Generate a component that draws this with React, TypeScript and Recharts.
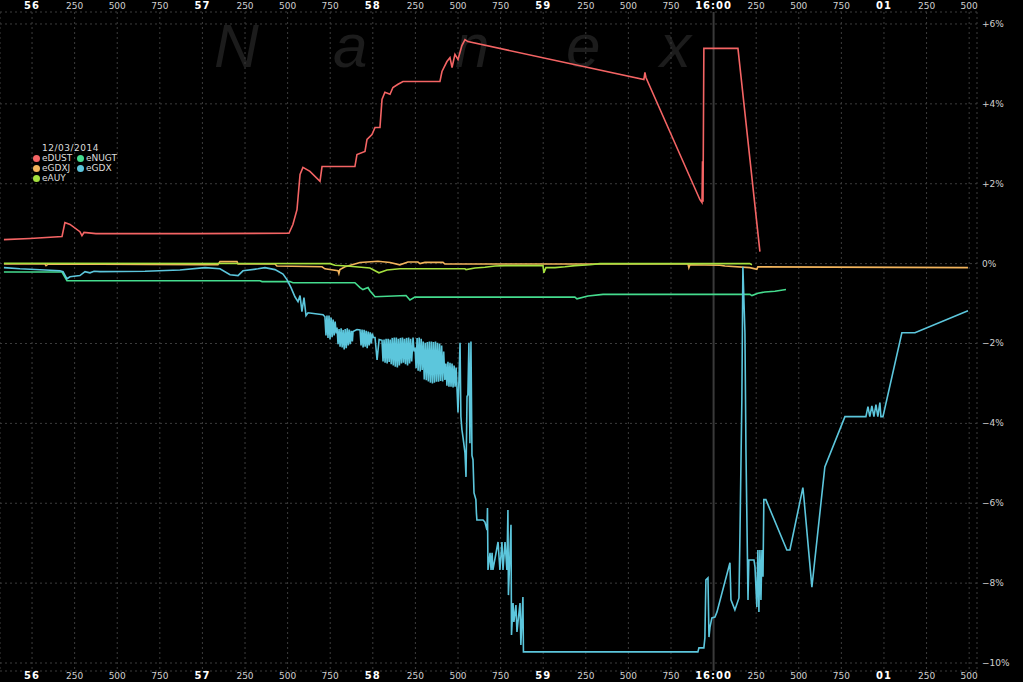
import { CartesianGrid, Line, LineChart, ReferenceLine, XAxis, YAxis } from 'recharts';

// time in seconds past 15:59:00 (60 = 16:00:00), value in % change
const eDUST: [number, number][] = [
  [55.835, 0.6], [55.988, 0.63], [56.176, 0.68], [56.193, 1.03], [56.223, 0.98], [56.281, 0.8],
  [56.293, 0.7], [56.305, 0.78], [56.375, 0.75], [56.945, 0.75], [57.508, 0.76], [57.531, 0.98],
  [57.555, 1.35], [57.573, 2.23], [57.59, 2.41], [57.631, 2.31], [57.69, 2.06], [57.702, 2.43],
  [57.895, 2.43], [57.907, 2.73], [57.954, 2.81], [57.966, 3.11], [57.995, 3.23], [58.013, 3.41],
  [58.042, 3.41], [58.054, 4.11], [58.071, 4.29], [58.101, 4.24], [58.118, 4.41], [58.148, 4.49],
  [58.177, 4.56], [58.394, 4.56], [58.406, 4.81], [58.435, 5.06], [58.453, 5.16], [58.465, 4.91],
  [58.482, 5.24], [58.5, 5.11], [58.523, 5.46], [58.541, 5.61], [58.558, 5.56], [59.591, 4.61],
  [59.597, 4.79], [59.603, 4.66], [59.92, 1.6], [59.932, 1.53], [59.935, 2.56], [59.938, 1.55],
  [59.943, 5.39], [60.143, 5.39], [60.272, 0.3],
];

const eNUGT: [number, number][] = [
  [55.835, -0.21], [56.176, -0.21], [56.205, -0.43], [57.338, -0.43], [57.35, -0.45], [57.514, -0.45],
  [57.531, -0.48], [57.895, -0.48], [57.925, -0.6], [57.942, -0.65], [57.972, -0.6], [57.983, -0.68],
  [58.013, -0.83], [58.195, -0.8], [58.218, -0.91], [58.247, -0.84], [59.186, -0.84], [59.198, -0.88],
  [59.263, -0.81], [59.351, -0.77], [60.213, -0.77], [60.225, -0.8], [60.26, -0.74], [60.301, -0.71],
  [60.36, -0.69], [60.425, -0.65],
];

const eGDXJ: [number, number][] = [
  [55.835, -0.01], [56.076, -0.01], [56.082, -0.05], [56.094, -0.01], [57.015, -0.03], [57.091, -0.03],
  [57.103, 0.05], [57.203, 0.05], [57.209, -0.01], [57.426, -0.01], [57.437, -0.06], [57.702, -0.08],
  [57.719, -0.13], [57.796, -0.18], [57.801, -0.25], [57.807, -0.15], [57.837, -0.08], [57.925, 0.03],
  [58.03, 0.06], [58.101, 0.03], [58.159, -0.03], [58.206, 0.04], [58.265, 0.04], [58.277, 0.0],
  [58.306, 0.03], [58.412, 0.03], [58.423, -0.01], [59.85, -0.01], [59.855, -0.1], [59.861, -0.03],
  [60.037, -0.04], [60.067, -0.06], [60.213, -0.1], [60.254, -0.14], [60.26, -0.08], [61.493, -0.1],
];

const eAUY: [number, number][] = [
  [55.835, 0.01], [57.749, 0.0], [57.778, -0.04], [57.848, -0.06], [57.983, -0.11], [58.036, -0.23],
  [58.083, -0.16], [58.159, -0.13], [58.541, -0.13], [58.547, -0.15], [58.6, -0.11], [58.658, -0.09],
  [58.717, -0.06], [58.776, -0.05], [58.999, -0.05], [59.004, -0.23], [59.016, -0.1], [59.069, -0.1],
  [59.128, -0.08], [59.186, -0.05], [59.274, -0.03], [59.333, 0.0], [60.213, 0.0], [60.225, -0.03],
];

const eGDX: [number, number][] = [
  [55.835, -0.1], [55.929, -0.13], [56.164, -0.18], [56.182, -0.2], [56.205, -0.38], [56.223, -0.33],
  [56.281, -0.3], [56.311, -0.2], [56.34, -0.23], [56.364, -0.19], [56.399, -0.2], [56.663, -0.19],
  [56.868, -0.16], [57.015, -0.1], [57.103, -0.13], [57.162, -0.28], [57.209, -0.3], [57.238, -0.18],
  [57.326, -0.13], [57.367, -0.1], [57.426, -0.15], [57.473, -0.26], [57.496, -0.4], [57.52, -0.6],
  [57.543, -0.83], [57.561, -0.95], [57.573, -0.8], [57.584, -1.2], [57.596, -0.85], [57.608, -1.3],
  [57.62, -1.23], [57.708, -1.28],
  // dense trading, 57.72 - 58.52
  [57.719, -1.33], [57.725, -1.8], [57.731, -1.3], [57.737, -1.86], [57.743, -1.3], [57.749, -1.9],
  [57.755, -1.35], [57.761, -1.84], [57.767, -1.4], [57.773, -1.8], [57.779, -1.45], [57.785, -1.75],
  [57.79, -1.6], [57.796, -2.02], [57.802, -1.64], [57.808, -2.08], [57.814, -1.62], [57.82, -2.1],
  [57.826, -1.66], [57.832, -2.15], [57.838, -1.64], [57.844, -2.12], [57.85, -1.62], [57.856, -2.05],
  [57.862, -1.65], [57.868, -2.02], [57.874, -1.68], [57.88, -1.95], [57.884, -1.7], [57.907, -1.65],
  [57.925, -1.66], [57.931, -2.05], [57.937, -1.65], [57.943, -2.1], [57.949, -1.66], [57.955, -2.08],
  [57.961, -1.68], [57.967, -2.12], [57.973, -1.7], [57.979, -2.05], [57.985, -1.72], [57.991, -2.0],
  [57.997, -1.75], [58.003, -1.85], [58.013, -1.85], [58.025, -2.41], [58.037, -1.9], [58.054, -1.92],
  [58.06, -2.45], [58.066, -1.9], [58.072, -2.48], [58.078, -1.88], [58.084, -2.5], [58.09, -1.88],
  [58.096, -2.46], [58.102, -1.9], [58.108, -2.52], [58.114, -1.86], [58.12, -2.55], [58.126, -1.85],
  [58.132, -2.58], [58.138, -1.85], [58.144, -2.6], [58.15, -1.88], [58.156, -2.55], [58.162, -1.86],
  [58.168, -2.5], [58.174, -1.85], [58.18, -2.48], [58.186, -1.88], [58.192, -2.52], [58.198, -1.86],
  [58.204, -2.55], [58.21, -1.85], [58.216, -2.5], [58.222, -1.88], [58.228, -2.45], [58.236, -1.85],
  [58.242, -2.2], [58.248, -2.1], [58.254, -2.62], [58.26, -1.86], [58.266, -2.68], [58.272, -1.85],
  [58.278, -2.7], [58.284, -1.88], [58.29, -2.66], [58.296, -1.95], [58.302, -2.9], [58.308, -1.98],
  [58.314, -2.92], [58.32, -1.96], [58.326, -2.95], [58.332, -1.95], [58.338, -2.98], [58.344, -1.95],
  [58.35, -3.0], [58.356, -1.96], [58.362, -2.98], [58.368, -1.95], [58.374, -2.96], [58.38, -1.98],
  [58.386, -2.96], [58.392, -2.0], [58.398, -2.94], [58.404, -2.05], [58.41, -2.95], [58.416, -2.2],
  [58.423, -2.91], [58.429, -2.5], [58.435, -3.06], [58.441, -2.46], [58.447, -3.08], [58.453, -2.48],
  [58.459, -3.08], [58.465, -2.5], [58.471, -3.1], [58.477, -2.55], [58.483, -3.08], [58.489, -2.6],
  [58.494, -3.1], [58.5, -3.73], [58.512, -1.98], [58.517, -3.83], [58.523, -4.16], [58.529, -4.34],
  [58.541, -4.74], [58.547, -5.34], [58.553, -3.33], [58.558, -3.28], [58.564, -1.98], [58.57, -4.5],
  [58.576, -1.95], [58.582, -4.8], [58.588, -4.91],
  [58.594, -5.74], [58.605, -5.91], [58.608, -6.24], [58.611, -6.42], [58.647, -6.42], [58.658, -6.47],
  [58.67, -6.67], [58.673, -6.12], [58.676, -7.67], [58.688, -7.24], [58.694, -7.67], [58.7, -7.24],
  [58.705, -7.67], [58.735, -6.97], [58.746, -7.67], [58.758, -6.97], [58.764, -7.67], [58.776, -6.97],
  [58.787, -7.67], [58.793, -6.17], [58.796, -8.3], [58.811, -6.54], [58.814, -9.3], [58.823, -8.5],
  [58.828, -8.97], [58.84, -8.55], [58.846, -9.22], [58.852, -8.97], [58.864, -8.5], [58.869, -9.55],
  [58.881, -8.35], [58.884, -9.72], [59.908, -9.72], [59.914, -9.62], [59.943, -9.62], [59.949, -9.37],
  [59.955, -7.92], [59.967, -7.87], [59.973, -9.35], [59.979, -9.1], [59.99, -8.87], [60.008, -8.85],
  [60.02, -8.72], [60.096, -7.49], [60.102, -8.42], [60.125, -8.67], [60.149, -8.37], [60.155, -6.74],
  [60.166, -3.41], [60.172, -0.08], [60.184, -1.73], [60.19, -4.66], [60.202, -8.42], [60.207, -7.42],
  [60.237, -7.42], [60.243, -7.59], [60.254, -8.6], [60.26, -7.17], [60.266, -8.72], [60.272, -7.17],
  [60.278, -8.42], [60.284, -7.17], [60.29, -7.84], [60.295, -5.91], [60.307, -5.91], [60.43, -7.17],
  [60.448, -7.17], [60.524, -5.61], [60.53, -5.86], [60.577, -8.1], [60.653, -5.09], [60.771, -3.83],
  [60.876, -3.83], [60.894, -3.83], [60.906, -3.58], [60.917, -3.83], [60.929, -3.56], [60.941, -3.83],
  [60.953, -3.53], [60.964, -3.83], [60.976, -3.48], [60.982, -3.83], [60.994, -3.83], [61.105, -1.73],
  [61.182, -1.73], [61.493, -1.18],
];

const xTicks = [
  56, 56.25, 56.5, 56.75, 57, 57.25, 57.5, 57.75, 58, 58.25, 58.5, 58.75,
  59, 59.25, 59.5, 59.75, 60, 60.25, 60.5, 60.75, 61, 61.25, 61.5,
];
const xTickLabels = [
  '56', '250', '500', '750', '57', '250', '500', '750', '58', '250', '500', '750',
  '59', '250', '500', '750', '16:00', '250', '500', '750', '01', '250', '500',
];
const yTicks = [-10, -8, -6, -4, -2, 0, 2, 4, 6];

const series = [
  { name: 'eGDXJ', color: '#f2b45c', data: eGDXJ },
  { name: 'eAUY', color: '#a4e03e', data: eAUY },
  { name: 'eNUGT', color: '#45dc8e', data: eNUGT },
  { name: 'eDUST', color: '#f46464', data: eDUST },
  { name: 'eGDX', color: '#5cc6dc', data: eGDX },
];

const legendRows = [
  [{ name: 'eDUST', color: '#f46464' }, { name: 'eNUGT', color: '#45dc8e' }],
  [{ name: 'eGDXJ', color: '#f2b45c' }, { name: 'eGDX', color: '#5cc6dc' }],
  [{ name: 'eAUY', color: '#a4e03e' }],
];

const watermark = [
  { ch: 'N', left: 214 },
  { ch: 'a', left: 333 },
  { ch: 'n', left: 455 },
  { ch: 'e', left: 566 },
  { ch: 'x', left: 660 },
];

const font = '"DejaVu Sans", Verdana, sans-serif';

function timeTick(baseline: number) {
  return (props: any) => {
    const { x, payload } = props;
    const idx = xTicks.indexOf(payload.value);
    const label = idx >= 0 ? xTickLabels[idx] : '';
    const major = !label.match(/^(250|500|750)$/);
    return (
      <text
        x={x}
        y={baseline}
        textAnchor="middle"
        fontFamily={font}
        fontSize={major ? 10 : 9}
        fontWeight={major ? 'bold' : 'normal'}
        letterSpacing={major ? 1 : 0}
        fill={major ? '#ffffff' : '#d0d0d0'}
      >
        {label}
      </text>
    );
  };
}

function pctTick(props: any) {
  const { y, payload } = props;
  const v = payload.value;
  const label = v > 0 ? `+${v}%` : v < 0 ? `\u2212${-v}%` : '0%';
  return (
    <text x={982} y={y + 3} fontFamily={font} fontSize={9} fill="#d0d0d0">
      {label}
    </text>
  );
}

export default function App() {
  return (
    <div style={{ position: 'fixed', left: 0, top: 0, width: 1023, height: 682, background: '#000', overflow: 'hidden' }}>
      {watermark.map((w) => (
        <span
          key={w.left}
          style={{
            position: 'absolute',
            left: w.left,
            top: 15,
            fontFamily: '"Liberation Sans", Arial, sans-serif',
            fontStyle: 'italic',
            fontSize: 62,
            lineHeight: '62px',
            color: '#1c1c1c',
          }}
        >
          {w.ch}
        </span>
      ))}

      <div style={{ position: 'absolute', left: 0, top: 0 }}>
        <LineChart width={1023} height={682} margin={{ top: 0, right: 0, bottom: 0, left: 0 }}>
          <CartesianGrid stroke="#3c3c3c" strokeDasharray="2 3" />
          <XAxis
            dataKey="t"
            type="number"
            domain={[55.812, 61.546]}
            allowDataOverflow
            ticks={xTicks}
            height={11}
            axisLine={false}
            tickLine={false}
            tick={timeTick(679)}
            interval={0}
          />
          <XAxis
            xAxisId="top"
            dataKey="t"
            type="number"
            orientation="top"
            domain={[55.812, 61.546]}
            allowDataOverflow
            ticks={xTicks}
            height={12}
            axisLine={false}
            tickLine={false}
            tick={timeTick(9)}
            interval={0}
          />
          <YAxis
            orientation="right"
            type="number"
            domain={[-10.2, 6.3]}
            allowDataOverflow
            ticks={yTicks}
            width={46}
            axisLine={false}
            tickLine={false}
            tick={pctTick}
            interval={0}
          />
          <ReferenceLine x={60} stroke="#3a3a3a" strokeWidth={2} />
          {series.map((s) => (
            <Line
              key={s.name}
              data={s.data.map(([t, v]) => ({ t, v }))}
              dataKey="v"
              type="linear"
              stroke={s.color}
              strokeWidth={1.6}
              dot={false}
              isAnimationActive={false}
            />
          ))}
        </LineChart>
      </div>

      <div
        style={{
          position: 'absolute',
          left: 33,
          top: 143,
          fontFamily: font,
          fontSize: 9,
          color: '#dcdcdc',
          lineHeight: '10px',
        }}
      >
        <div style={{ paddingLeft: 9, letterSpacing: 0.5 }}>12/03/2014</div>
        {legendRows.map((row, i) => (
          <div key={i} style={{ display: 'flex' }}>
            {row.map((item) => (
              <div key={item.name} style={{ display: 'flex', alignItems: 'center', flex: '0 0 44px', whiteSpace: 'nowrap' }}>
                <span
                  style={{
                    display: 'inline-block',
                    width: 7,
                    height: 7,
                    borderRadius: '50%',
                    background: item.color,
                    marginRight: 2,
                  }}
                />
                {item.name}
              </div>
            ))}
          </div>
        ))}
      </div>
    </div>
  );
}
